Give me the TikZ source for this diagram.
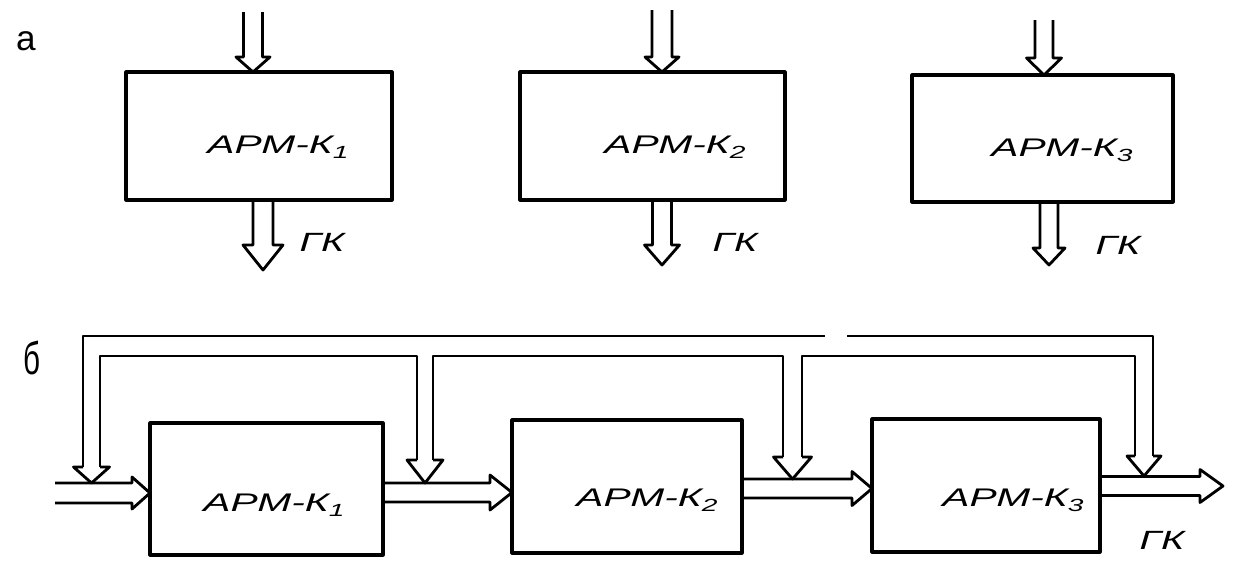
\documentclass[tikz,border=0pt]{standalone}
\usepackage{fontspec}
\setmainfont{Liberation Sans}
\newcommand{\armk}[1]{\scalebox{1.6}[1]{АРМ-К\raisebox{-0.35ex}{\fontsize{10}{11}\selectfont #1}}}
\newcommand{\gklbl}{\scalebox{1.5}[1]{ГК}}
\begin{document}
\begin{tikzpicture}[x=0.02cm,y=-0.02cm, line width=1.6pt, line join=round,
  box/.style={draw, rectangle, inner sep=0pt, line width=1.8pt},
  lbl/.style={inner sep=0pt, font=\fontsize{14.5}{16}\selectfont\itshape},
  gk/.style={inner sep=0pt, font=\fontsize{15}{17}\selectfont\itshape},
  pics/hdown/.style n args={4}{code={\draw (-#2,-#1) -- (-#2,-#4) -- (-#3,-#4) -- (0,0) -- (#3,-#4) -- (#2,-#4) -- (#2,-#1);}},
  pics/hright/.style n args={4}{code={\draw (-#1,-#2) -- (-#4,-#2) -- (-#4,-#3) -- (0,0) -- (-#4,#3) -- (-#4,#2) -- (-#1,#2);}}
]
\useasboundingbox (0,0) rectangle (1237,562);

% section labels
\node[inner sep=0pt, font=\fontsize{20}{22}\selectfont] (la) at (26,41) {а};
\node[inner sep=0pt, font=\fontsize{26}{28}\selectfont] (lb) at (32,358) {\scalebox{0.65}[1]{б}};

% ---------- part a ----------
\node[box, minimum width=5.32cm, minimum height=2.56cm] (a1) at (259,136) {};
\node[box, minimum width=5.30cm, minimum height=2.56cm] (a2) at (652.5,136) {};
\node[box, minimum width=5.22cm, minimum height=2.54cm] (a3) at (1042.5,138.5) {};
\node[lbl] (a1t) at (278,147) {\armk{1}};
\node[lbl] (a2t) at (675,147) {\armk{2}};
\node[lbl] (a3t) at (1062,150) {\armk{3}};

\coordinate (a1in) at (253,72);
\coordinate (a2in) at (662,72);
\coordinate (a3in) at (1044,75);
\coordinate (a1out) at (263,270);
\coordinate (a2out) at (662,265);
\coordinate (a3out) at (1049,265);
\pic at (a1in) {hdown={60}{9.5}{17}{15}};
\pic at (a2in) {hdown={62}{10}{17}{15}};
\pic at (a3in) {hdown={55}{9}{17.5}{17}};
\pic at (a1out) {hdown={70}{10}{20}{25}};
\pic at (a2out) {hdown={65}{9.5}{17.5}{20}};
\pic at (a3out) {hdown={63}{9}{16}{17}};

\node[gk] (g1) at (322,242) {\gklbl};
\node[gk] (g2) at (735,242) {\gklbl};
\node[gk] (g3) at (1118,245) {\gklbl};

% ---------- part b ----------
\node[box, minimum width=4.66cm, minimum height=2.64cm] (b1) at (266.5,489) {};
\node[box, minimum width=4.60cm, minimum height=2.66cm] (b2) at (627,486.5) {};
\node[box, minimum width=4.56cm, minimum height=2.66cm] (b3) at (986,485.5) {};
\node[lbl] (b1t) at (274,505) {\armk{1}};
\node[lbl] (b2t) at (647,500) {\armk{2}};
\node[lbl] (b3t) at (1013,500) {\armk{3}};

% main flow
\coordinate (bin) at (150,493);
\coordinate (b12) at (512,492.5);
\coordinate (b23) at (872,488.5);
\coordinate (bout) at (1223,486);
\pic at (bin) {hright={95}{10}{16}{18}};
\pic at (b12) {hright={129}{9.5}{17.5}{22}};
\pic at (b23) {hright={130}{9.5}{17}{20}};
\pic at (bout) {hright={123}{9.5}{16.5}{23}};
\node[gk] (g4) at (1162,540) {\gklbl};

% feedback heads
\coordinate (h1) at (91.5,483);
\coordinate (h2) at (425,483);
\coordinate (h3) at (792.5,479);
\coordinate (h4) at (1144,476);
\pic at (h1) {hdown={16}{8.5}{18}{16}};
\pic at (h2) {hdown={23}{8}{18}{23}};
\pic at (h3) {hdown={22}{9.5}{19}{22}};
\pic at (h4) {hdown={20}{9}{17}{20}};

% ring bus
\draw (83,467) -- (83,336) -- (825,336);
\draw (847,336) -- (1153,336) -- (1153,456);
\draw (100,467) -- (100,356) -- (417,356) -- (417,460);
\draw (433,460) -- (433,356) -- (783,356) -- (783,457);
\draw (802,457) -- (802,356) -- (1135,356) -- (1135,456);
\end{tikzpicture}
\end{document}
